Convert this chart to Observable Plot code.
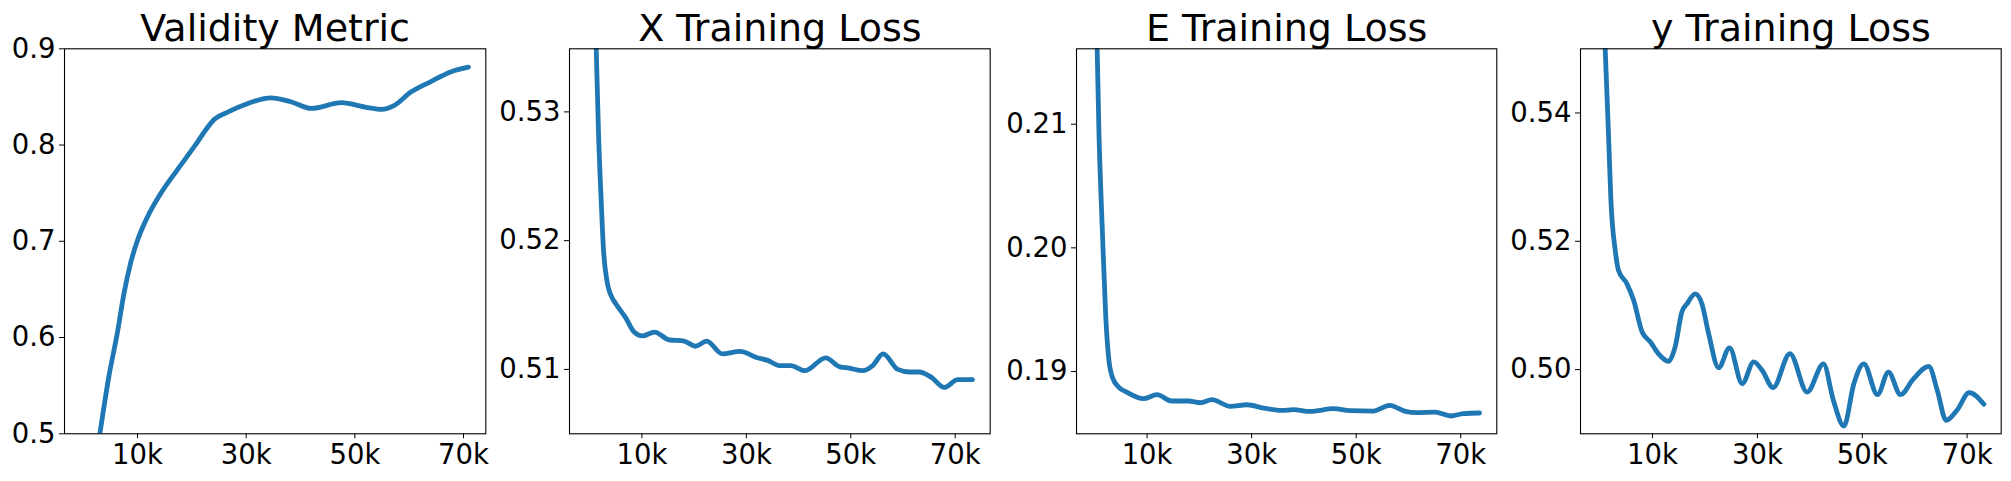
<!DOCTYPE html>
<html>
<head>
<meta charset="utf-8">
<script src="https://cdn.jsdelivr.net/npm/d3@7"></script>
<script src="https://cdn.jsdelivr.net/npm/@observablehq/plot@0.6"></script>
<style>
  html, body { margin: 0; padding: 0; background: white; }
  #root { position: relative; width: 2011px; height: 481px; overflow: hidden; background: white; }
  .panel { position: absolute; top: 0; }
</style>
</head>
<body>
<div id="root"></div>
<script>
// ---- Data (steps in training iterations) ----
const titles = ["Validity Metric", "X Training Loss", "E Training Loss", "y Training Loss"];

const stepTicks = [10000, 30000, 50000, 70000];
const stepTickLabels = ["10k", "30k", "50k", "70k"];

const validitySteps  = [0, 3060, 4710, 6260, 7480, 8710, 10000, 11800, 14200, 17300, 20400, 23400, 24200, 26500, 30200, 34500, 38200, 42000, 47500, 52300, 54900, 57200, 60300, 64000, 67600, 70900];
const validityValues = [0.39, 0.50, 0.559, 0.604, 0.645, 0.677, 0.701, 0.725, 0.749, 0.774, 0.798, 0.822, 0.827, 0.834, 0.843, 0.849, 0.845, 0.838, 0.844, 0.839, 0.837, 0.841, 0.855, 0.866, 0.876, 0.881];
const validityTicks  = [0.5, 0.6, 0.7, 0.8, 0.9];
const validityLabels = ["0.5", "0.6", "0.7", "0.8", "0.9"];

const xLossSteps  = [0, 1250, 1690, 2200, 2640, 3300, 4250, 5000, 6900, 8500, 10100, 12400, 15200, 18100, 20300, 22400, 25400, 28800, 32100, 34100, 36300, 38500, 41200, 45200, 47900, 49700, 52300, 54200, 56200, 59000, 61200, 63100, 65400, 67900, 70500, 73300];
const xLossValues = [0.555, 0.5349, 0.5283, 0.5231, 0.5193, 0.5169, 0.5156, 0.5151, 0.5140, 0.5129, 0.5126, 0.5129, 0.5123, 0.5122, 0.5118, 0.5122, 0.5112, 0.5114, 0.5109, 0.5107, 0.5103, 0.5103, 0.5099, 0.5109, 0.5102, 0.5101, 0.5099, 0.5103, 0.5112, 0.5100, 0.5098, 0.5098, 0.5094, 0.5086, 0.5092, 0.5092];
const xLossTicks  = [0.51, 0.52, 0.53];
const xLossLabels = ["0.51", "0.52", "0.53"];

const eLossSteps  = [0, 800, 1470, 2100, 2700, 3400, 4650, 6100, 9300, 11900, 14700, 17900, 20200, 22400, 25900, 29100, 32300, 35800, 38000, 41200, 45700, 48800, 53300, 56400, 59400, 61600, 65100, 68100, 70500, 73600];
const eLossValues = [0.225, 0.2092, 0.2011, 0.1944, 0.1909, 0.1895, 0.18870, 0.18833, 0.18780, 0.18812, 0.18761, 0.18761, 0.18747, 0.18772, 0.18718, 0.18731, 0.18704, 0.18685, 0.18691, 0.18677, 0.18699, 0.18683, 0.18680, 0.18726, 0.18677, 0.18667, 0.18672, 0.18640, 0.18659, 0.18664];
const eLossTicks  = [0.19, 0.20, 0.21];
const eLossLabels = ["0.19", "0.20", "0.21"];

const yLossSteps  = [0, 970, 1600, 2060, 2880, 3500, 5100, 6400, 8000, 9600, 11100, 13050, 14300, 15600, 16600, 18150, 19400, 20700, 22600, 24700, 27100, 29300, 30900, 33000, 36200, 39500, 42600, 44500, 46500, 48400, 50300, 52900, 55000, 57300, 59800, 62700, 64300, 66000, 68100, 70400, 73200];
const yLossValues = [0.572, 0.550, 0.5367, 0.5264, 0.5186, 0.5155, 0.5134, 0.5108, 0.5059, 0.5043, 0.5025, 0.5013, 0.5035, 0.5090, 0.5103, 0.5118, 0.5103, 0.5056, 0.5003, 0.5034, 0.4978, 0.5012, 0.4999, 0.4972, 0.5025, 0.4965, 0.5009, 0.4952, 0.4912, 0.4978, 0.5009, 0.4961, 0.4996, 0.4961, 0.4986, 0.5005, 0.4968, 0.4921, 0.4937, 0.4964, 0.4946];
const yLossTicks  = [0.50, 0.52, 0.54];
const yLossLabels = ["0.50", "0.52", "0.54"];

// ---- Layout ----
const panels = [
  {title: titles[0], steps: validitySteps, values: validityValues, ticks: validityTicks, labels: validityLabels,
   xDomain: [-3440, 74100], yDomain: [0.5, 0.9], frameLeft: 64, frameWidth: 421.3},
  {title: titles[1], steps: xLossSteps, values: xLossValues, ticks: xLossTicks, labels: xLossLabels,
   xDomain: [-3870, 76700], yDomain: [0.5050, 0.5349], frameLeft: 569.3, frameWidth: 420.7},
  {title: titles[2], steps: eLossSteps, values: eLossValues, ticks: eLossTicks, labels: eLossLabels,
   xDomain: [-3500, 76900], yDomain: [0.18496, 0.2161], frameLeft: 1075.7, frameWidth: 420.3},
  {title: titles[3], steps: yLossSteps, values: yLossValues, ticks: yLossTicks, labels: yLossLabels,
   xDomain: [-3740, 76500], yDomain: [0.490, 0.550], frameLeft: 1580.3, frameWidth: 420.7}
];

const ML = 72, MR = 10, MT = 48.3, MB = 481 - 433.3;
const TICK_FONT = 27.5, TITLE_FONT = 38;
const root = document.getElementById("root");

for (const p of panels) {
  const data = p.steps.map((s, i) => ({step: s, value: p.values[i]}));
  const chart = Plot.plot({
    width: ML + p.frameWidth + MR,
    height: 481,
    marginLeft: ML, marginRight: MR, marginTop: MT, marginBottom: MB,
    x: {domain: p.xDomain},
    y: {domain: p.yDomain},
    style: {fontFamily: "'DejaVu Sans', sans-serif", color: "black", background: "transparent", overflow: "visible"},
    marks: [
      Plot.line(data, {x: "step", y: "value", stroke: "#1f77b4", strokeWidth: 4.8, curve: "monotone-x", clip: true}),
      Plot.frame({stroke: "black", strokeWidth: 1.1}),
      Plot.axisY({ticks: p.ticks, tickFormat: d => p.labels[p.ticks.indexOf(d)], tickSize: 5, tickPadding: 4, fontSize: TICK_FONT, label: null}),
      Plot.axisX({ticks: stepTicks, tickFormat: d => stepTickLabels[stepTicks.indexOf(d)], tickSize: 5, tickPadding: 6, fontSize: TICK_FONT, label: null}),
      Plot.text([p.title], {frameAnchor: "top", dy: -8, lineAnchor: "bottom", fontSize: TITLE_FONT, fill: "black"})
    ]
  });
  const div = document.createElement("div");
  div.className = "panel";
  div.style.left = (p.frameLeft - ML) + "px";
  div.appendChild(chart);
  root.appendChild(div);
}
</script>
</body>
</html>
